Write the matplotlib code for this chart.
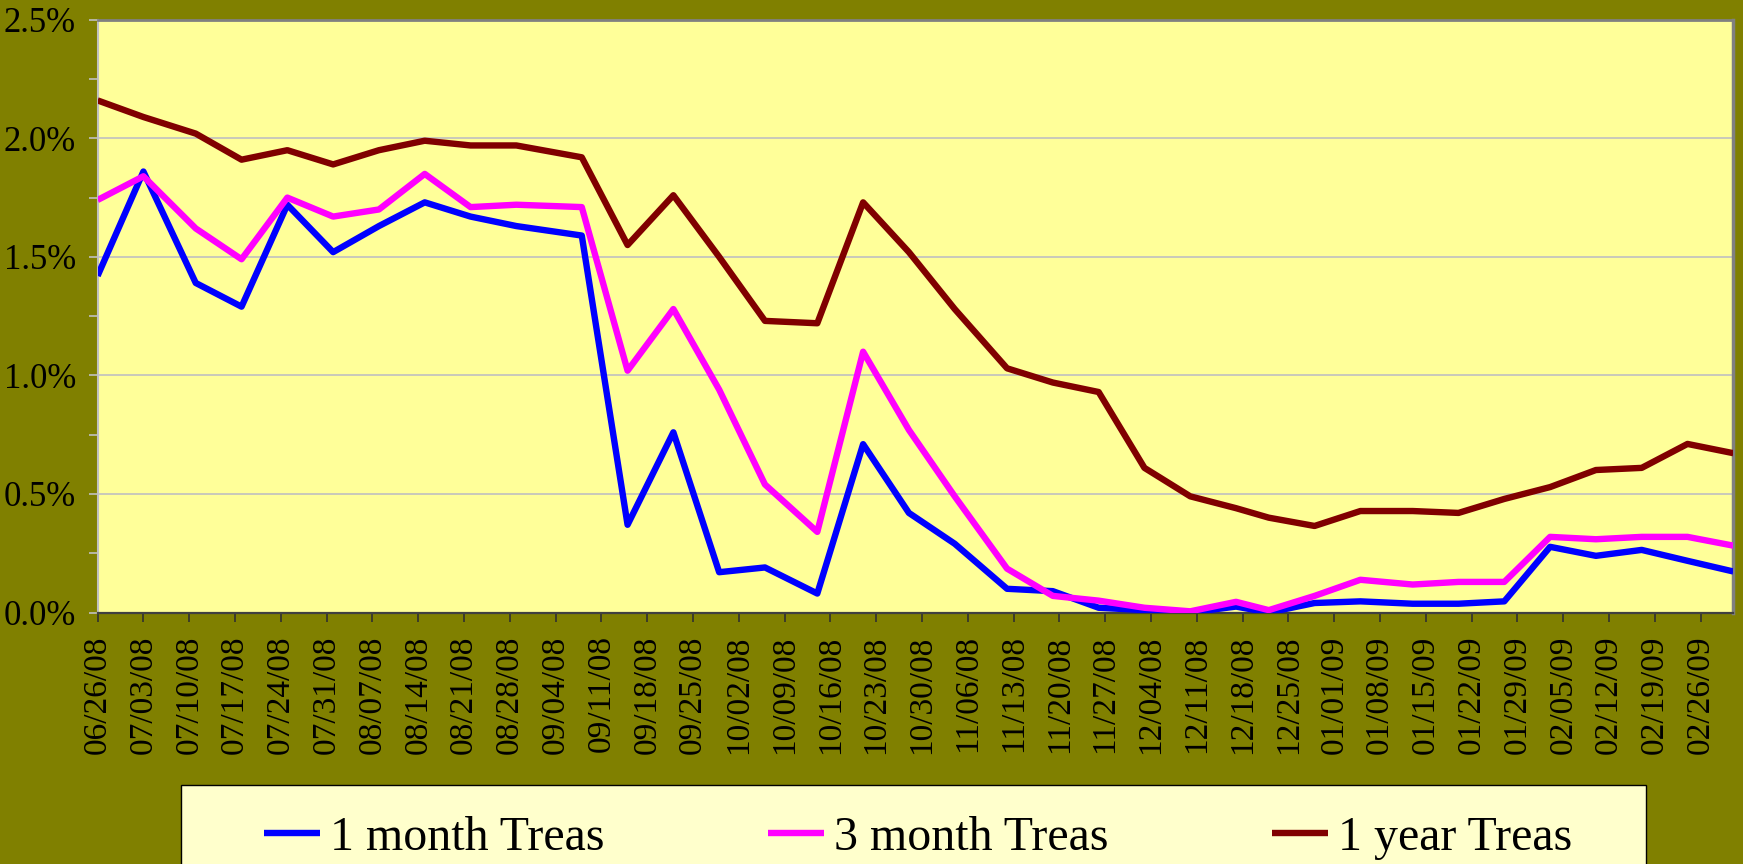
import matplotlib
matplotlib.use("Agg")
import matplotlib.pyplot as plt
from matplotlib.patches import Rectangle
from matplotlib.ticker import FuncFormatter, MultipleLocator
import pandas as pd

plt.rcParams['font.family'] = ['Liberation Serif', 'DejaVu Serif']

# ---- data ----
dates = ['2008-06-26', '2008-07-03', '2008-07-11', '2008-07-18', '2008-07-25',
         '2008-08-01', '2008-08-08', '2008-08-15', '2008-08-22', '2008-08-29',
         '2008-09-08', '2008-09-15', '2008-09-22', '2008-09-29', '2008-10-06',
         '2008-10-14', '2008-10-21', '2008-10-28', '2008-11-04', '2008-11-12',
         '2008-11-19', '2008-11-26', '2008-12-03', '2008-12-10', '2008-12-17',
         '2008-12-22', '2008-12-29', '2009-01-05', '2009-01-13', '2009-01-20',
         '2009-01-27', '2009-02-03', '2009-02-10', '2009-02-17', '2009-02-24',
         '2009-03-03']

one_month = [1.42, 1.86, 1.39, 1.29, 1.72, 1.52, 1.63, 1.73, 1.67, 1.63,
             1.59, 0.37, 0.76, 0.17, 0.19, 0.08, 0.71, 0.42, 0.29, 0.10,
             0.09, 0.02, 0.01, 0.00, 0.025, 0.00, 0.04, 0.047, 0.037, 0.037,
             0.047, 0.277, 0.239, 0.264, 0.218, 0.173]

three_month = [1.74, 1.84, 1.62, 1.49, 1.75, 1.67, 1.70, 1.85, 1.71, 1.72,
               1.71, 1.02, 1.28, 0.94, 0.54, 0.34, 1.10, 0.77, 0.49, 0.185,
               0.07, 0.05, 0.02, 0.005, 0.045, 0.01, 0.07, 0.138, 0.118, 0.129,
               0.129, 0.319, 0.309, 0.319, 0.319, 0.282]

one_year = [2.16, 2.09, 2.02, 1.91, 1.95, 1.89, 1.95, 1.99, 1.97, 1.97,
            1.92, 1.55, 1.76, 1.50, 1.23, 1.22, 1.73, 1.52, 1.28, 1.03,
            0.97, 0.93, 0.61, 0.49, 0.44, 0.40, 0.365, 0.428, 0.428, 0.420,
            0.479, 0.529, 0.601, 0.610, 0.711, 0.672]

series_names = ['1 month Treas', '3 month Treas', '1 year Treas']
series_colors = ['#0000FF', '#FF00FF', '#800000']

tick_labels = ['06/26/08', '07/03/08', '07/10/08', '07/17/08', '07/24/08',
               '07/31/08', '08/07/08', '08/14/08', '08/21/08', '08/28/08',
               '09/04/08', '09/11/08', '09/18/08', '09/25/08', '10/02/08',
               '10/09/08', '10/16/08', '10/23/08', '10/30/08', '11/06/08',
               '11/13/08', '11/20/08', '11/27/08', '12/04/08', '12/11/08',
               '12/18/08', '12/25/08', '01/01/09', '01/08/09', '01/15/09',
               '01/22/09', '01/29/09', '02/05/09', '02/12/09', '02/19/09',
               '02/26/09']

# ---- figure ----
W, H = 1743, 864
fig = plt.figure(figsize=(W / 100, H / 100), dpi=100, facecolor='#808000')
ax = fig.add_axes([97.6 / W, 1 - 612.5 / H, (1733.3 - 97.6) / W, (612.5 - 19.8) / H])
ax.set_facecolor('#FFFF99')

x = pd.to_datetime(dates)
for vals, name, col in zip([one_month, three_month, one_year], series_names, series_colors):
    ax.plot(x, vals, color=col, lw=4.6, label=name, solid_joinstyle='round',
            solid_capstyle='butt', zorder=3)

ax.set_xlim(x[0], x[-1])
ax.set_ylim(0, 2.5)

# y axis
ax.yaxis.set_major_locator(MultipleLocator(0.5))
ax.yaxis.set_minor_locator(MultipleLocator(0.25))
ax.yaxis.set_major_formatter(FuncFormatter(lambda v, p: f"{v:.1f}%"))
ax.tick_params(axis='y', which='both', direction='out', length=6.5, width=1.2,
               color='#C0C0C0', pad=9, labelsize=25, labelcolor='black')
ax.grid(axis='y', which='major', color='#C0C0C0', lw=1.2, zorder=1)
ax.set_axisbelow(True)

# x axis
tick_pos = pd.to_datetime(tick_labels, format='%m/%d/%y')
ax.set_xticks(tick_pos)
ax.set_xticklabels(tick_labels, rotation=90, ha='center', va='top', fontsize=24)
ax.tick_params(axis='x', direction='out', length=6.5, width=1.2, color='#303030',
               pad=10)

for side, col, lw in [('top', '#808080', 2.0), ('right', '#808080', 2.5),
                      ('left', '#C0C0C0', 1.5), ('bottom', '#404040', 1.6)]:
    ax.spines[side].set_color(col)
    ax.spines[side].set_linewidth(lw)

# legend frame and entries
fig.patches.append(Rectangle((181 / W, -0.05), (1646 - 181) / W, 1.05 - 785 / H,
                             transform=fig.transFigure, facecolor='#FFFFCC',
                             edgecolor='black', lw=1.0, zorder=0))
handles, labels = ax.get_legend_handles_labels()
fig.legend(handles, labels, loc='center', ncol=3, mode='expand', frameon=False,
           bbox_to_anchor=(264 / W, (H - 838) / H - 0.01, (1572 - 264) / W, 0.02),
           fontsize=34.5, handlelength=1.17, handletextpad=0.2, borderpad=0,
           borderaxespad=0, columnspacing=1.0)

fig.savefig('out.png', dpi=100, facecolor=fig.get_facecolor())
